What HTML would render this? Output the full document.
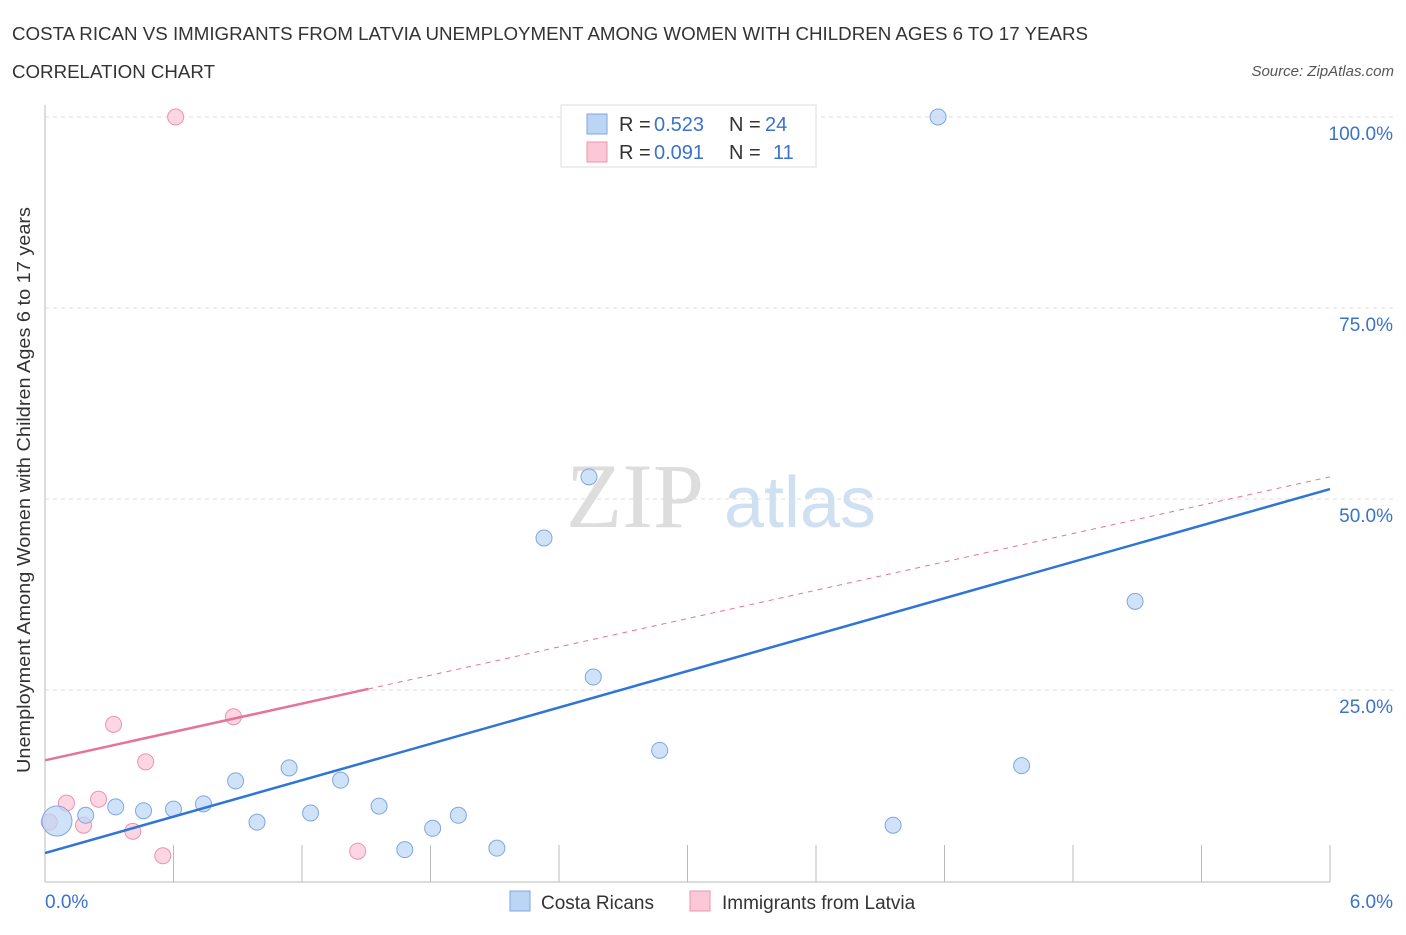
<!DOCTYPE html>
<html><head><meta charset="utf-8"><style>
body{margin:0;background:#fff;font-family:"Liberation Sans",sans-serif;}
</style></head><body>
<svg id="c" width="1406" height="930" xmlns="http://www.w3.org/2000/svg" style="font-family:'Liberation Sans',sans-serif">
<text x="12" y="40" font-size="18" fill="#333" textLength="1076" lengthAdjust="spacingAndGlyphs">COSTA RICAN VS IMMIGRANTS FROM LATVIA UNEMPLOYMENT AMONG WOMEN WITH CHILDREN AGES 6 TO 17 YEARS</text>
<text x="12" y="78" font-size="18" fill="#333" textLength="203" lengthAdjust="spacingAndGlyphs">CORRELATION CHART</text>
<text x="1394" y="76" font-size="15" fill="#555" font-style="italic" text-anchor="end">Source: ZipAtlas.com</text>
<text x="35" y="495" font-size="18" fill="#333" text-anchor="middle" textLength="566" lengthAdjust="spacingAndGlyphs" transform="rotate(-90 30 495)">Unemployment Among Women with Children Ages 6 to 17 years</text>
<g><text x="635" y="527" font-size="92" fill="#ddd" font-family="Liberation Serif" text-anchor="middle">ZIP</text><text x="800" y="527" font-size="72" fill="#cfe0f3" text-anchor="middle">atlas</text></g>
<g id="grid"></g><g id="marks"></g>
<g>
<rect x="561" y="105" width="255" height="62" fill="#fff" stroke="#ddd"/>
<rect x="587" y="114" width="20" height="20" fill="#bcd5f5" stroke="#7ea7e0"/>
<rect x="587" y="142" width="20" height="20" fill="#fbc8d8" stroke="#eb93ae"/>
<text x="619" y="131" font-size="20" fill="#333">R =</text>
<text x="654" y="131" font-size="20" fill="#3a73c9">0.523</text>
<text x="729" y="131" font-size="20" fill="#333">N =</text>
<text x="765" y="131" font-size="20" fill="#3a73c9">24</text>
<text x="619" y="159" font-size="20" fill="#333">R =</text>
<text x="654" y="159" font-size="20" fill="#3a73c9">0.091</text>
<text x="729" y="159" font-size="20" fill="#333">N =</text>
<text x="773" y="159" font-size="20" fill="#3a73c9">11</text>
</g>
<g>
<rect x="510" y="891" width="20" height="20" fill="#bcd5f5" stroke="#7ea7e0"/>
<text x="541" y="909" font-size="19" fill="#333">Costa Ricans</text>
<rect x="690" y="891" width="20" height="20" fill="#fbc8d8" stroke="#eb93ae"/>
<text x="722" y="909" font-size="19" fill="#333">Immigrants from Latvia</text>
</g>
</svg>
<script>
const blueX=[0.056,0.19,0.33,0.46,0.60,0.74,0.89,0.99,1.14,1.24,1.38,1.56,1.68,1.81,1.93,2.11,2.33,2.54,2.56,2.87,3.96,4.17,4.56,5.09];
const blueY=[7.85,8.6,9.7,9.2,9.4,10.1,13.1,7.7,14.8,8.9,13.2,9.8,4.1,6.9,8.6,4.3,44.9,52.9,26.7,17.1,7.3,100,15.1,36.6];
const pinkX=[0.02,0.10,0.18,0.25,0.32,0.41,0.47,0.55,0.61,0.88,1.46];
const pinkY=[7.7,10.2,7.3,10.7,20.5,6.5,15.6,3.3,100,21.5,3.9];
const blueTrend=[3.66,51.3];
const pinkTrend=[15.8,52.9];
const pinkSolidEnd=1.51;
const yTicks=[25,50,75,100];
const yTickLabels=["25.0%","50.0%","75.0%","100.0%"];
const NS="http://www.w3.org/2000/svg";
const sx=v=>45+v/6*1285, sy=v=>881-v/25*191;
function mk(t,a,p){const e=document.createElementNS(NS,t);for(const k in a)e.setAttribute(k,a[k]);p.appendChild(e);return e;}
const g=document.getElementById('grid'),m=document.getElementById('marks');
yTicks.forEach((t,i)=>{
 const l=mk('line',{x1:45,x2:1395,y1:sy(t),y2:sy(t),stroke:'#ddd','stroke-dasharray':'4,4'},g);
 
 const tx=mk('text',{x:1393,y:sy(t)+23,'font-size':19,fill:'#3a73c9','text-anchor':'end'},g);tx.textContent=yTickLabels[i];
 
});
const ax=mk('line',{x1:45,x2:45,y1:105,y2:882,stroke:'#bbb'},g);
const bx=mk('line',{x1:45,x2:1330,y1:882,y2:882,stroke:'#bbb'},g);
for(let i=1;i<=10;i++){const t=mk('line',{x1:sx(i*0.6),x2:sx(i*0.6),y1:845,y2:882,stroke:'#bbb'},g);}
[["0.0%",45,'start'],["6.0%",1393,'end']].forEach(d=>{const t=mk('text',{x:d[1],y:908,'font-size':19,fill:'#3a73c9','text-anchor':d[2]},g);t.textContent=d[0];});
pinkX.forEach((x,i)=>{const c=mk('circle',{cx:sx(x),cy:sy(pinkY[i]),r:8,fill:'#fbc8d8','fill-opacity':0.75,stroke:'#eb93ae'},m);});
blueX.forEach((x,i)=>{const c=mk('circle',{cx:sx(x),cy:sy(blueY[i]),r:i==0?15:8,fill:'#bcd5f5','fill-opacity':0.7,stroke:'#7ea7e0'},m);});
const pm=pinkTrend[0]+(pinkTrend[1]-pinkTrend[0])*pinkSolidEnd/6;
let l=mk('line',{x1:sx(pinkSolidEnd),y1:sy(pm),x2:sx(6),y2:sy(pinkTrend[1]),stroke:'#e5739a','stroke-width':1,'stroke-dasharray':'5,5'},m);

l=mk('line',{x1:sx(0),y1:sy(pinkTrend[0]),x2:sx(pinkSolidEnd),y2:sy(pm),stroke:'#e5739a','stroke-width':2.5},m);

l=mk('line',{x1:sx(0),y1:sy(blueTrend[0]),x2:sx(6),y2:sy(blueTrend[1]),stroke:'#2f74d6','stroke-width':2.5},m);

</script>
</body></html>
